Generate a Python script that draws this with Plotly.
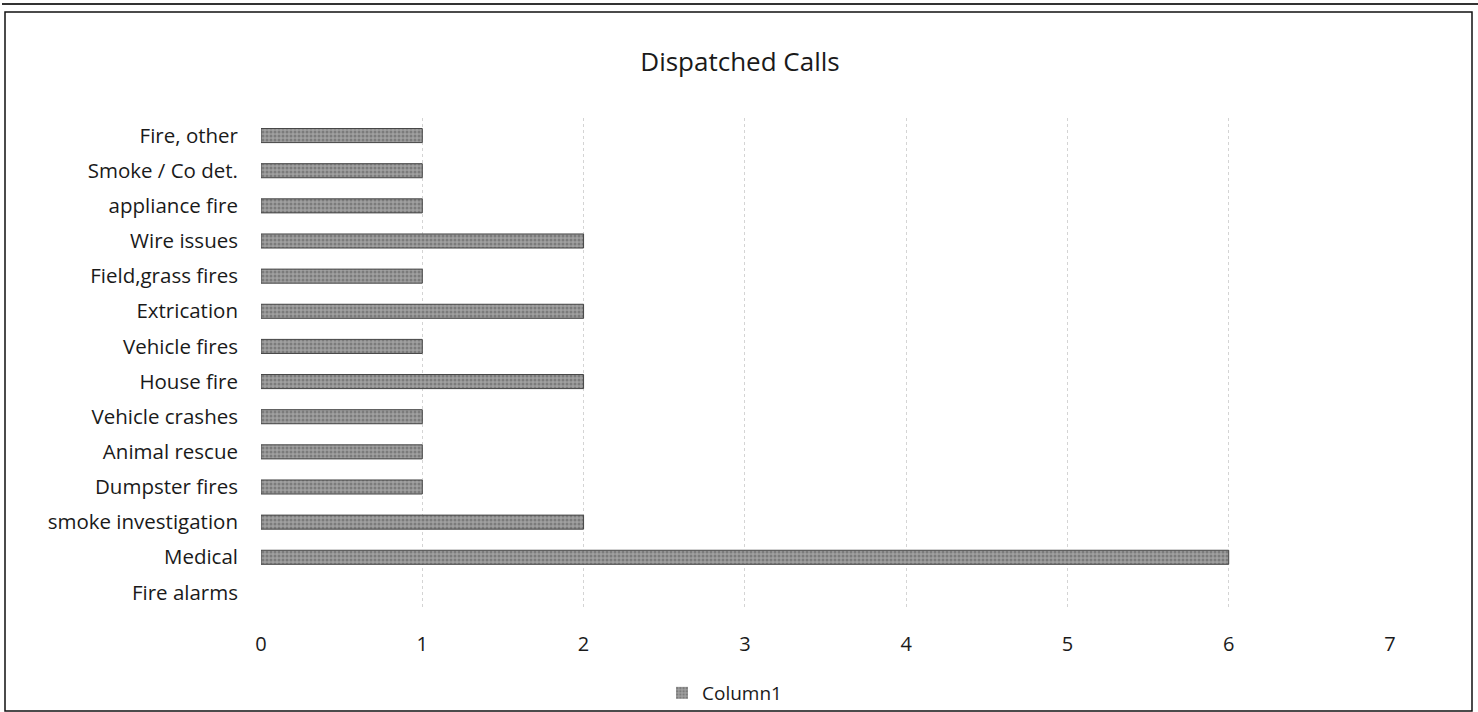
import plotly.graph_objects as go

categories = ["Fire alarms", "Medical", "smoke investigation", "Dumpster fires", "Animal rescue",
              "Vehicle crashes", "House fire", "Vehicle fires", "Extrication", "Field,grass fires",
              "Wire issues", "appliance fire", "Smoke / Co det.", "Fire, other"]
values = [0, 6, 2, 1, 1, 1, 2, 1, 2, 1, 2, 1, 1, 1]
x_ticks = [0, 1, 2, 3, 4, 5, 6, 7]

W, H = 1478, 712
L, R, T, B = 261, 88, 118, 102
pw, ph = W - L - R, H - T - B

def px(x):
    return (x - L) / pw

def py(y):
    return (H - B - y) / ph

fig = go.Figure()
fig.add_trace(go.Bar(
    y=categories, x=values, orientation="h", name="Column1",
    marker=dict(color="#8a8a8a",
                line=dict(color="#444", width=[0 if v == 0 else 1 for v in values]),
                pattern=dict(shape=".", fgcolor="#555", bgcolor="#a0a0a0", size=4, solidity=0.45)),
))

fig.update_layout(
    width=W, height=H,
    margin=dict(l=L, r=R, t=T, b=B, autoexpand=False),
    paper_bgcolor="white", plot_bgcolor="white",
    font=dict(family="Open Sans, Liberation Sans, sans-serif", size=18, color="#1a1a1a"),
    title=dict(text="Dispatched Calls", x=740 / W, xanchor="center", y=1 - 62 / H, yanchor="middle",
               font=dict(size=26, color="#1a1a1a")),
    bargap=0.6,
    showlegend=True,
    legend=dict(orientation="h", x=px(662), xanchor="left", y=py(693), yanchor="middle",
                font=dict(size=19), itemwidth=30, bgcolor="rgba(0,0,0,0)"),
    xaxis=dict(range=[0, 7], tickvals=x_ticks, showgrid=True, gridcolor="#d4d4d4", griddash="dot",
               gridwidth=1, zeroline=False, showline=False, ticks="", ticklabelstandoff=20,
               tickfont=dict(size=20), automargin=False),
    yaxis=dict(categoryorder="array", categoryarray=categories, showgrid=False, showline=False,
               ticks="", ticklabelstandoff=22, tickfont=dict(size=20.5), automargin=False),
)

# outer chart border and top page line
fig.add_shape(type="rect", xref="paper", yref="paper", x0=px(5), x1=px(1472), y0=py(711), y1=py(12),
              line=dict(color="#111", width=1.5), fillcolor="rgba(0,0,0,0)", layer="below")
fig.add_shape(type="line", xref="paper", yref="paper", x0=px(2), x1=px(1478), y0=py(4), y1=py(4),
              line=dict(color="#333", width=2))

fig.write_html("out.html", config={"displayModeBar": False},
               post_script="document.body.style.margin='0';document.body.style.overflow='hidden';")
